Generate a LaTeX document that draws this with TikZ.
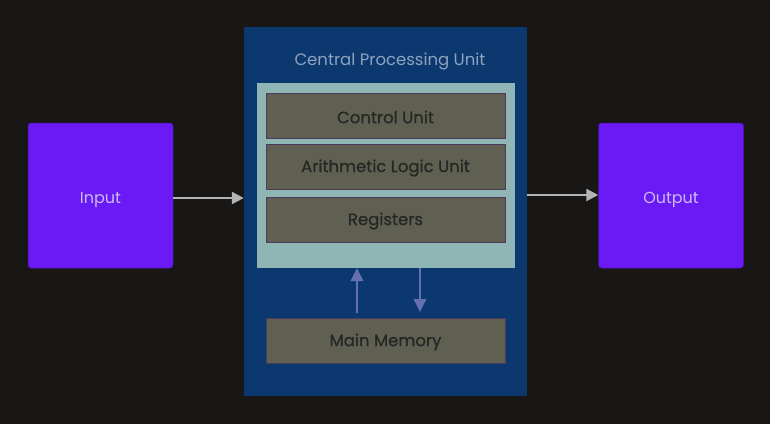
\documentclass[tikz,border=0pt]{standalone}
\usepackage{fontspec}
\setmainfont{Poppins}
\newfontfamily\medfont{Poppins}[FakeBold=0.6]
\usetikzlibrary{arrows.meta}
\definecolor{bg}{HTML}{181716}
\definecolor{cpublue}{HTML}{0C3870}
\definecolor{panel}{HTML}{8FB5B5}
\definecolor{unitfill}{HTML}{5F5F52}
\definecolor{unitedge}{HTML}{4E3A5E}
\definecolor{iofill}{HTML}{6A1AF5}
\definecolor{iotext}{HTML}{CDBAF2}
\definecolor{titletext}{HTML}{8EA3BD}
\definecolor{unittext}{HTML}{262624}
\definecolor{memarrow}{HTML}{6670B0}
\definecolor{ioarrow}{HTML}{B4B4B4}
\begin{document}
\begin{tikzpicture}[x=1pt,y=-1pt,
  unitbox/.style={draw=unitedge,line width=0.6pt,fill=unitfill,minimum width=239pt,minimum height=45pt,inner sep=0pt},
  unitlabel/.style={text=unittext,font=\medfont\fontsize{16.5}{18}\selectfont,yshift=-1.5pt},
  iobox/.style={fill=iofill,draw=iofill!70!black,line width=0.5pt,rounded corners=3pt,minimum width=145pt,minimum height=145pt,inner sep=0pt},
  iolabel/.style={text=iotext,font=\fontsize{16}{18}\selectfont,yshift=-4pt},
  ioarr/.style={draw=ioarrow,line width=2.4pt,-{Triangle[length=12pt,width=12pt]}},
  memarr/.style={draw=memarrow,line width=2.6pt,-{Triangle[length=13pt,width=12pt]}}]
\useasboundingbox (0,0) rectangle (770,424);
\fill[bg] (0,0) rectangle (770,424);
\node[fill=cpublue,minimum width=283pt,minimum height=369pt,inner sep=0pt] (cpu) at (385.5,211.5) {};
\node[text=titletext,font=\fontsize{16.5}{18}\selectfont] (title) at (390,61.5) {Central Processing Unit};
\node[fill=panel,minimum width=258pt,minimum height=185pt,inner sep=0pt] (panel) at (386,175.5) {};
\node[unitbox,label={[unitlabel]center:Control Unit}] (cu) at (385.5,115.5) {};
\node[unitbox,label={[unitlabel]center:Arithmetic Logic Unit}] (alu) at (385.5,166.5) {};
\node[unitbox,label={[unitlabel]center:Registers}] (reg) at (385.5,219.5) {};
\node[unitbox,label={[unitlabel]center:Main Memory}] (mem) at (385.5,340.5) {};
\node[iobox,label={[iolabel]center:Input}] (in) at (100.5,195.5) {};
\node[iobox,label={[iolabel]center:Output}] (out) at (671,195.5) {};
\coordinate (upS) at (357,313);
\coordinate (upE) at (357,268);
\coordinate (dnS) at (420,268);
\coordinate (dnE) at (420,312);
\draw[memarr] (upS) -- (upE);
\draw[memarr] (dnS) -- (dnE);
\draw[ioarr] (in.east |- 0,198) -- (cpu.west |- 0,198);
\draw[ioarr] (cpu.east |- 0,195) -- (out.west |- 0,195);
\end{tikzpicture}
\end{document}
